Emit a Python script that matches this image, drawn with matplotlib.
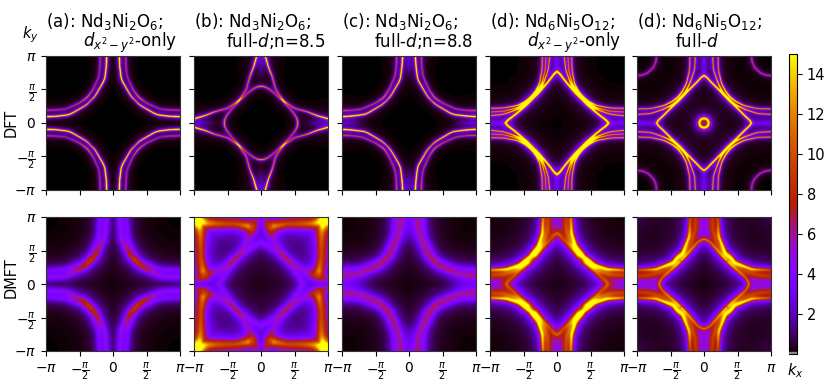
import numpy as np
import matplotlib
matplotlib.use("Agg")
import matplotlib.pyplot as plt
from matplotlib.cm import ScalarMappable
from matplotlib.colors import Normalize
from matplotlib.patches import Rectangle

# Fermi surface traces, in units of pi, first quadrant,
# from the zone edge towards the diagonal. Third list is the spectral weight.
# DFT row
a_dft_in_x = [0.095, 0.10, 0.125, 0.27, 0.335]
a_dft_in_y = [1.0, 0.85, 0.65, 0.40, 0.335]
a_dft_in_p = [15, 14, 13, 10, 8]
a_dft_out_x = [0.19, 0.195, 0.21, 0.30, 0.385]
a_dft_out_y = [1.0, 0.85, 0.70, 0.50, 0.385]
a_dft_out_p = [6, 6, 5, 6, 8]

b_dft_out_x = [0.065, 0.11, 0.17, 0.22, 0.335]
b_dft_out_y = [1.0, 0.84, 0.69, 0.50, 0.335]
b_dft_out_p = [15, 11, 8, 7, 7]
b_dft_dia_x = [0.0, 0.05, 0.12, 0.22, 0.33]
b_dft_dia_y = [0.55, 0.545, 0.51, 0.43, 0.33]
b_dft_dia_p = [9, 8, 7, 6, 7]

c_dft_in_x = [0.095, 0.105, 0.13, 0.27, 0.335]
c_dft_in_y = [1.0, 0.85, 0.65, 0.41, 0.335]
c_dft_in_p = [15, 14, 12, 10, 8]
c_dft_out_x = [0.185, 0.19, 0.21, 0.30, 0.38]
c_dft_out_y = [1.0, 0.85, 0.70, 0.50, 0.38]
c_dft_out_p = [7, 6, 6, 6, 8]

d_dft_dia_x = [0.0, 0.04, 0.10, 0.18, 0.28, 0.37]
d_dft_dia_y = [0.77, 0.74, 0.66, 0.56, 0.45, 0.37]
d_dft_dia_p = [16, 15, 14, 14, 15, 16]
d_dft_l1_x = [0.11, 0.13, 0.20, 0.28, 0.37]
d_dft_l1_y = [1.0, 0.80, 0.60, 0.46, 0.37]
d_dft_l1_p = [8, 8, 9, 14, 15]
d_dft_l2_x = [0.165, 0.175, 0.225, 0.30, 0.38]
d_dft_l2_y = [1.0, 0.80, 0.60, 0.47, 0.38]
d_dft_l2_p = [7, 7, 8, 11, 14]
d_dft_l3_x = [0.22, 0.225, 0.26, 0.32, 0.39]
d_dft_l3_y = [1.0, 0.80, 0.60, 0.48, 0.39]
d_dft_l3_p = [8, 8, 9, 11, 13]

e_dft_dia_x = [0.0, 0.04, 0.10, 0.18, 0.28, 0.36]
e_dft_dia_y = [0.71, 0.685, 0.62, 0.54, 0.44, 0.36]
e_dft_dia_p = [13, 13, 13, 13, 15, 16]
e_dft_l1_x = [0.13, 0.14, 0.21, 0.28, 0.36]
e_dft_l1_y = [1.0, 0.80, 0.60, 0.46, 0.36]
e_dft_l1_p = [8, 8, 9, 13, 15]
e_dft_l2_x = [0.21, 0.215, 0.26, 0.32, 0.39]
e_dft_l2_y = [1.0, 0.80, 0.60, 0.48, 0.39]
e_dft_l2_p = [8, 8, 9, 11, 13]
e_dft_arc_x = [0.71, 0.72, 0.75, 0.795]
e_dft_arc_y = [1.0, 0.92, 0.85, 0.795]
e_dft_arc_p = [6, 6, 6, 6]
e_dft_ring_x = [0.0, 0.03, 0.05]
e_dft_ring_y = [0.07, 0.063, 0.05]
e_dft_ring_p = [15, 15, 15]

# DMFT row
a_dmft_in_x = [0.095, 0.12, 0.26, 0.34]
a_dmft_in_y = [1.0, 0.70, 0.42, 0.34]
a_dmft_in_p = [3.0, 3.2, 6.0, 6.5]
a_dmft_out_x = [0.20, 0.22, 0.30, 0.37]
a_dmft_out_y = [1.0, 0.70, 0.48, 0.37]
a_dmft_out_p = [2.8, 2.8, 2.8, 2.8]

b_dmft_frame_x = [0.20, 0.40, 0.60, 0.80, 0.93]
b_dmft_frame_y = [0.87, 0.90, 0.90, 0.91, 0.93]
b_dmft_frame_p = [10, 8, 8, 8.5, 10]
b_dmft_hyp_x = [0.06, 0.10, 0.18, 0.27, 0.38]
b_dmft_hyp_y = [1.0, 0.85, 0.70, 0.53, 0.38]
b_dmft_hyp_p = [4, 5, 3.4, 3.2, 3.2]
b_dmft_dia_x = [0.0, 0.10, 0.25, 0.38]
b_dmft_dia_y = [0.62, 0.57, 0.47, 0.38]
b_dmft_dia_p = [3.4, 3.0, 2.8, 3.2]
b_dmft_edge_x = [0.30, 0.45, 0.60]
b_dmft_edge_y = [1.0, 1.0, 1.0]
b_dmft_edge_p = [2, 2, 2]

c_dmft_in_x = [0.12, 0.14, 0.27, 0.35]
c_dmft_in_y = [1.0, 0.75, 0.44, 0.35]
c_dmft_in_p = [3.8, 3.8, 4.5, 4.5]
c_dmft_out_x = [0.21, 0.23, 0.32, 0.39]
c_dmft_out_y = [1.0, 0.72, 0.50, 0.39]
c_dmft_out_p = [2.6, 2.6, 2.6, 2.6]

d_dmft_out_x = [0.21, 0.22, 0.28, 0.40]
d_dmft_out_y = [1.0, 0.76, 0.56, 0.41]
d_dmft_out_p = [9, 12, 13, 14]
d_dmft_in_x = [0.13, 0.14, 0.20, 0.32, 0.37]
d_dmft_in_y = [1.0, 0.80, 0.62, 0.45, 0.38]
d_dmft_in_p = [7, 7, 7, 6, 6]
d_dmft_dia_x = [0.0, 0.04, 0.10, 0.20, 0.32]
d_dmft_dia_y = [0.76, 0.735, 0.66, 0.56, 0.44]
d_dmft_dia_p = [6, 6, 5, 4, 6]

e_dmft_out_x = [0.21, 0.22, 0.32, 0.40]
e_dmft_out_y = [1.0, 0.72, 0.46, 0.40]
e_dmft_out_p = [7, 11, 13, 13]
e_dmft_in_x = [0.12, 0.13, 0.19, 0.30, 0.37]
e_dmft_in_y = [1.0, 0.80, 0.60, 0.44, 0.37]
e_dmft_in_p = [7, 7, 6, 5, 6]
e_dmft_dia_x = [0.0, 0.05, 0.10, 0.20, 0.33]
e_dmft_dia_y = [0.67, 0.655, 0.62, 0.50, 0.36]
e_dmft_dia_p = [8, 8, 7, 7, 7]

# haze along the zone axis and single spots
axis_x = [0.0, 0.0, 0.0]
axis_y = [1.0, 0.85, 0.70]
corner_x = [1.0]
corner_y = [1.0]
centre_x = [0.0]
centre_y = [0.0]

titles_top = ["(a): Nd$_3$Ni$_2$O$_6$;", "(b): Nd$_3$Ni$_2$O$_6$;", "(c): Nd$_3$Ni$_2$O$_6$;",
              "(d): Nd$_6$Ni$_5$O$_{12}$;", "(d): Nd$_6$Ni$_5$O$_{12}$;"]
titles_bottom = ["$d_{x^2-y^2}$-only", "full-$d$;n=8.5", "full-$d$;n=8.8",
                 "$d_{x^2-y^2}$-only", "full-$d$"]
tick_labels = [r"$-\pi$", r"$-\frac{\pi}{2}$", "$0$", r"$\frac{\pi}{2}$", r"$\pi$"]
cbar_ticks = [2, 4, 6, 8, 10, 12, 14]

W, H = 830, 389
q = np.linspace(0, 1, 135)
QX, QY = np.meshgrid(q, q)


def dense(x, y, p, m=240):
    x, y, p = [np.asarray(v, float) for v in (x, y, p)]
    t = np.linspace(0, len(x) - 1, m)
    idx = np.arange(len(x))
    out = []
    for v in (x, y, p):
        v = np.interp(t, idx, v)
        if len(x) > 2:
            # rolling mean to take the corners off the traced line
            pad = np.pad(v, 15, mode="reflect", reflect_type="odd")
            v = np.convolve(pad, np.ones(31) / 31, mode="valid")
        out.append(v)
    return out


def ridge(x, y, p, w, gain=1.0):
    """Lorentzian ridge around a trace mirrored across the diagonal."""
    p = [v * gain for v in p]
    if x[-1] == y[-1] and len(x) > 1:
        # trace ends on the diagonal, so join it with its mirror image
        xx = list(x) + list(y[::-1][1:])
        yy = list(y) + list(x[::-1][1:])
        pp = list(p) + list(p[::-1][1:])
        lines = [dense(xx, yy, pp, 480)]
    else:
        lines = [dense(x, y, p), dense(y, x, p)]
    total = np.zeros_like(QX)
    for lx, ly, lp in lines:
        d2 = (QX[..., None] - lx) ** 2 + (QY[..., None] - ly) ** 2
        i = d2.argmin(axis=-1)
        total = np.maximum(total, lp[i] / (1 + d2.min(axis=-1) / w ** 2))
    return total


def panel(parts):
    A = sum(ridge(*part) for part in parts)
    top = np.hstack([A[:, :0:-1], A])
    return np.vstack([top[:0:-1], top])


dft_w = 0.009
g = 1.7
panels_top = [
    [(a_dft_in_x, a_dft_in_y, a_dft_in_p, dft_w, g), (a_dft_out_x, a_dft_out_y, a_dft_out_p, dft_w, g)],
    [(b_dft_out_x, b_dft_out_y, b_dft_out_p, dft_w, g), (b_dft_dia_x, b_dft_dia_y, b_dft_dia_p, dft_w, g),
     (axis_x, axis_y, [2.0, 1.6, 0.5], 0.05)],
    [(c_dft_in_x, c_dft_in_y, c_dft_in_p, dft_w, g), (c_dft_out_x, c_dft_out_y, c_dft_out_p, dft_w, g),
     (axis_x, axis_y, [2.2, 1.6, 0.5], 0.05)],
    [(d_dft_dia_x, d_dft_dia_y, d_dft_dia_p, 0.012, g), (d_dft_l1_x, d_dft_l1_y, d_dft_l1_p, dft_w, g),
     (d_dft_l2_x, d_dft_l2_y, d_dft_l2_p, dft_w, g), (d_dft_l3_x, d_dft_l3_y, d_dft_l3_p, dft_w, g),
     (axis_x, axis_y, [3, 2.6, 1.5], 0.06)],
    [(e_dft_dia_x, e_dft_dia_y, e_dft_dia_p, 0.011, g), (e_dft_l1_x, e_dft_l1_y, e_dft_l1_p, dft_w, g),
     (e_dft_l2_x, e_dft_l2_y, e_dft_l2_p, dft_w, g), (e_dft_arc_x, e_dft_arc_y, e_dft_arc_p, dft_w, g),
     (e_dft_ring_x, e_dft_ring_y, e_dft_ring_p, 0.02, 1.2), (centre_x, centre_y, [6], 0.03),
     (axis_x, axis_y, [3, 2.6, 1.5], 0.06)],
]
panels_bottom = [
    [(a_dmft_in_x, a_dmft_in_y, a_dmft_in_p, 0.045), (a_dmft_out_x, a_dmft_out_y, a_dmft_out_p, 0.05),
     (a_dmft_in_x, a_dmft_in_y, [0.9, 0.9, 0.9, 0.9], 0.13)],
    [(b_dmft_frame_x, b_dmft_frame_y, b_dmft_frame_p, 0.07), (b_dmft_hyp_x, b_dmft_hyp_y, b_dmft_hyp_p, 0.06),
     (b_dmft_dia_x, b_dmft_dia_y, b_dmft_dia_p, 0.06), (b_dmft_edge_x, b_dmft_edge_y, b_dmft_edge_p, 0.07),
     (corner_x, corner_y, [18], 0.115)],
    [(c_dmft_in_x, c_dmft_in_y, c_dmft_in_p, 0.05), (c_dmft_out_x, c_dmft_out_y, c_dmft_out_p, 0.055),
     (axis_x, axis_y, [2.2, 2.0, 1.0], 0.10), (c_dmft_in_x, c_dmft_in_y, [0.9, 0.9, 0.9, 0.9], 0.13)],
    [(d_dmft_out_x, d_dmft_out_y, d_dmft_out_p, 0.028), (d_dmft_in_x, d_dmft_in_y, d_dmft_in_p, 0.055),
     (d_dmft_dia_x, d_dmft_dia_y, d_dmft_dia_p, 0.035), (axis_x, axis_y, [3, 3, 2], 0.09),
     (d_dmft_dia_x, d_dmft_dia_y, [1.3] * 5, 0.13)],
    [(e_dmft_out_x, e_dmft_out_y, e_dmft_out_p, 0.028), (e_dmft_in_x, e_dmft_in_y, e_dmft_in_p, 0.055),
     (e_dmft_dia_x, e_dmft_dia_y, e_dmft_dia_p, 0.022), (axis_x, axis_y, [3, 3, 2], 0.09),
     (corner_x, corner_y, [0.6], 0.2), (e_dmft_dia_x, e_dmft_dia_y, [1.0] * 5, 0.12)],
]

plt.rcParams["font.size"] = 10.5
fig = plt.figure(figsize=(W / 100, H / 100), dpi=100)


def px_axes(x0, y0, x1, y1):
    return fig.add_axes([x0 / W, 1 - y1 / H, (x1 - x0) / W, (y1 - y0) / H])


lefts = [46, 194, 342, 490, 637]
line2_left = [83, 226, 374, 527, 675]
norm = Normalize(0, 15)
ticks = np.array([-1, -0.5, 0, 0.5, 1]) * np.pi

for row, (rows, y0) in enumerate([(panels_top, 56), (panels_bottom, 217)]):
    for col, parts in enumerate(rows):
        ax = px_axes(lefts[col], y0, lefts[col] + 134, y0 + 134)
        ax.imshow(panel(parts), origin="lower", extent=[-np.pi, np.pi, -np.pi, np.pi],
                  cmap="gnuplot", norm=norm, interpolation="bilinear", aspect="auto")
        ax.set_xticks(ticks)
        ax.set_yticks(ticks)
        ax.set_xticklabels(tick_labels if row == 1 else [], fontsize=10)
        ax.set_yticklabels(tick_labels if col == 0 else [], fontsize=10)
        for s in ax.spines.values():
            s.set_color("#333333")

for i in range(5):
    fig.text(lefts[i] / W, 1 - 27 / H, titles_top[i], fontsize=12, va="baseline")
    fig.text(line2_left[i] / W, 1 - 47 / H, titles_bottom[i], fontsize=12, va="baseline")

fig.text(30 / W, 1 - 35 / H, "$k_y$", ha="center", va="center", fontsize=10.5)
fig.text(795 / W, 1 - 371 / H, "$k_x$", ha="center", va="center", fontsize=10.5)
fig.text(11 / W, 1 - 123 / H, "DFT", rotation=90, ha="center", va="center", fontsize=10.5)
fig.text(11 / W, 1 - 278 / H, "DMFT", rotation=90, ha="center", va="center", fontsize=10.5)

cax = px_axes(789, 54, 797, 354)
cb = fig.colorbar(ScalarMappable(norm, "gnuplot"), cax=cax)
cb.set_ticks(cbar_ticks)
cax.add_patch(Rectangle((0, 0), 1, 0.12, color="#888888", zorder=5))

fig.savefig("out.png", dpi=100)
